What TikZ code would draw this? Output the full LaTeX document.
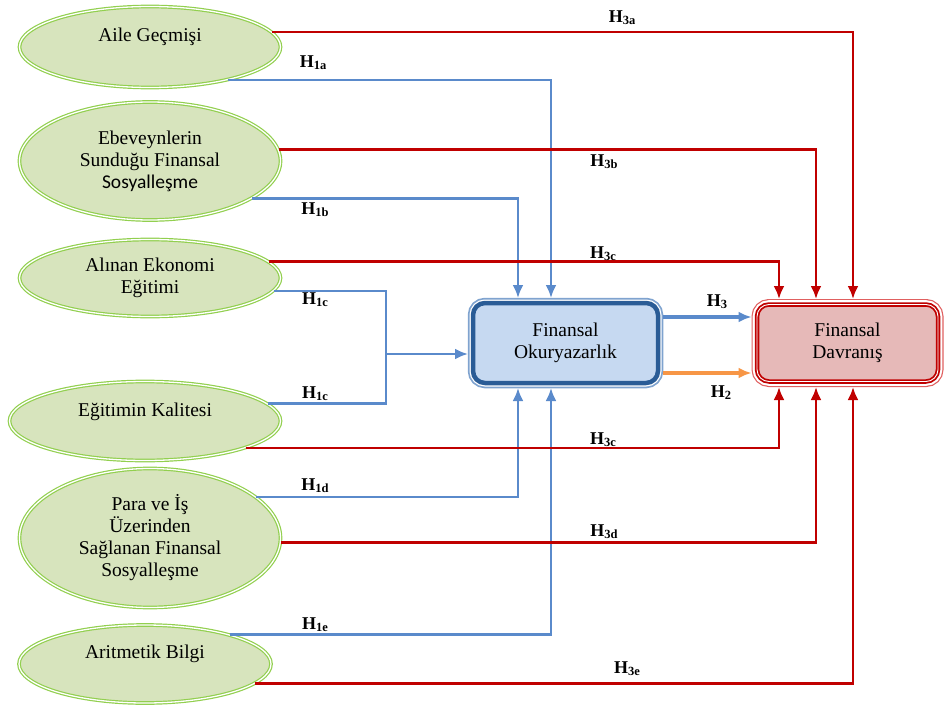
\documentclass[tikz,border=0pt]{standalone}
\usepackage{fontspec}
\setmainfont{Liberation Serif}
\newfontfamily\calfont{Carlito}
\usetikzlibrary{arrows.meta,shapes.geometric}

\definecolor{ellfill}{HTML}{D7E4BD}
\definecolor{ellline}{HTML}{92CF4F}
\definecolor{linkblue}{HTML}{5A8ACB}
\definecolor{linkred}{HTML}{C00000}
\definecolor{linkorange}{HTML}{F79646}
\definecolor{fofill}{HTML}{C6D9F1}
\definecolor{foline}{HTML}{2A5C96}
\definecolor{foring}{HTML}{7FA3CF}
\definecolor{fdfill}{HTML}{E6B9B8}
\definecolor{fdring}{HTML}{E06060}

\newcommand{\hypo}[1]{H\raisebox{-2pt}{\fontsize{12.5}{12.5}\selectfont #1}}

\begin{document}
\begin{tikzpicture}[x=1pt, y=-1pt,
    factor/.style={ellipse, draw=ellline, double=white, double distance=1.3pt, line width=1.2pt,
                   fill=ellfill, align=center, inner sep=0pt, minimum width=261pt,
                   font=\fontsize{19.5}{22}\selectfont},
    lit box/.style={rectangle, rounded corners=12pt, fill=fofill, draw=foline, line width=4.5pt,
                    preaction={draw=foring, line width=10.5pt}, preaction={draw=white, line width=7pt},
                    outer sep=5pt, minimum width=185pt, minimum height=80pt, align=center,
                    font=\fontsize{19.5}{22}\selectfont},
    behav box/.style={rectangle, rounded corners=12pt, fill=fdfill, draw=linkred, line width=4.5pt,
                      preaction={draw=fdring, line width=11pt}, preaction={draw=white, line width=8.6pt},
                      postaction={draw=white, line width=0.9pt},
                      outer sep=5.5pt, minimum width=181pt, minimum height=77pt, align=center,
                      font=\fontsize{19.5}{22}\selectfont},
    blue line/.style={draw=linkblue, line width=2.6pt},
    blue link/.style={blue line, -{Latex[length=13pt,width=11pt]}},
    red link/.style={draw=linkred, line width=2.6pt, -{Latex[length=13pt,width=11pt]}},
    orange link/.style={draw=linkorange, line width=3.2pt, -{Latex[length=13pt,width=11pt]}},
    hyp label/.style={font=\fontsize{18}{18}\selectfont\bfseries, inner sep=0pt}]

  \useasboundingbox (0,0) rectangle (945,706);

  % factors
  \node[factor, minimum height=81pt, text depth=24pt] (aile) at (150,47) {Aile Geçmişi};
  \node[factor, minimum height=118pt] (ebeveyn) at (150,161) {Ebeveynlerin\\Sunduğu Finansal\\{\calfont Sosyalleşme}};
  \node[factor, minimum height=77pt] (ekonomi) at (150,278) {Alınan Ekonomi\\Eğitimi};
  \node[factor, minimum width=271pt, minimum height=79pt, text depth=22pt] (kalite) at (145,421) {Eğitimin Kalitesi};
  \node[factor, minimum height=139pt] (para) at (150,538) {Para ve İş\\Üzerinden\\Sağlanan Finansal\\Sosyalleşme};
  \node[factor, minimum width=252pt, minimum height=78pt, text depth=24pt] (aritmetik) at (145,664) {Aritmetik Bilgi};

  \node[lit box] (fo) at (565.5,343) {Finansal\\Okuryazarlık};
  \node[behav box] (fd) at (847.5,343) {Finansal\\Davranış};

  % H1 links
  \draw[blue link] (aile.-23) -| ([xshift=-14.5pt]fo.north);
  \draw[blue link] (ebeveyn.-20) -| ([xshift=-47.5pt]fo.north);
  \coordinate (merge) at (386,354);
  \draw[blue line] (ekonomi.-6) -| (merge);
  \draw[blue line] (kalite.8) -| (merge);
  \draw[blue link] (merge) -- (merge -| fo.west);
  \draw[blue link] (para.21) -| ([xshift=-47.5pt]fo.south);
  \draw[blue link] (aritmetik.19) -| ([xshift=-14.5pt]fo.south);

  % H3 links
  \draw[red link] (aile.7) -| ([xshift=5.5pt]fd.north);
  \draw[red link] (ebeveyn.5) -| ([xshift=-31.5pt]fd.north);
  \draw[red link] (ekonomi.8) -| ([xshift=-68.5pt]fd.north);
  \draw[red link] (kalite.-15) -| ([xshift=-68.5pt]fd.south);
  \draw[red link] (para.-2) -| ([xshift=-31.5pt]fd.south);
  \draw[red link] (aritmetik.-10) -| ([xshift=5.5pt]fd.south);

  \draw[blue link, line width=3.2pt] ([yshift=26pt]fo.east) -- ([yshift=26pt]fd.west);
  \draw[orange link] ([yshift=-30pt]fo.east) -- ([yshift=-30pt]fd.west);

  % labels
  \node[hyp label] at (622,18) {\hypo{3a}};
  \node[hyp label] at (313,63) {\hypo{1a}};
  \node[hyp label] at (604,162) {\hypo{3b}};
  \node[hyp label] at (315,210) {\hypo{1b}};
  \node[hyp label] at (603,254) {\hypo{3c}};
  \node[hyp label] at (315,300) {\hypo{1c}};
  \node[hyp label] at (717,302) {\hypo{3}};
  \node[hyp label] at (721,393) {\hypo{2}};
  \node[hyp label] at (315,394) {\hypo{1c}};
  \node[hyp label] at (603,440) {\hypo{3c}};
  \node[hyp label] at (315,486) {\hypo{1d}};
  \node[hyp label] at (604,532) {\hypo{3d}};
  \node[hyp label] at (315,625) {\hypo{1e}};
  \node[hyp label] at (627,669) {\hypo{3e}};

\end{tikzpicture}
\end{document}
